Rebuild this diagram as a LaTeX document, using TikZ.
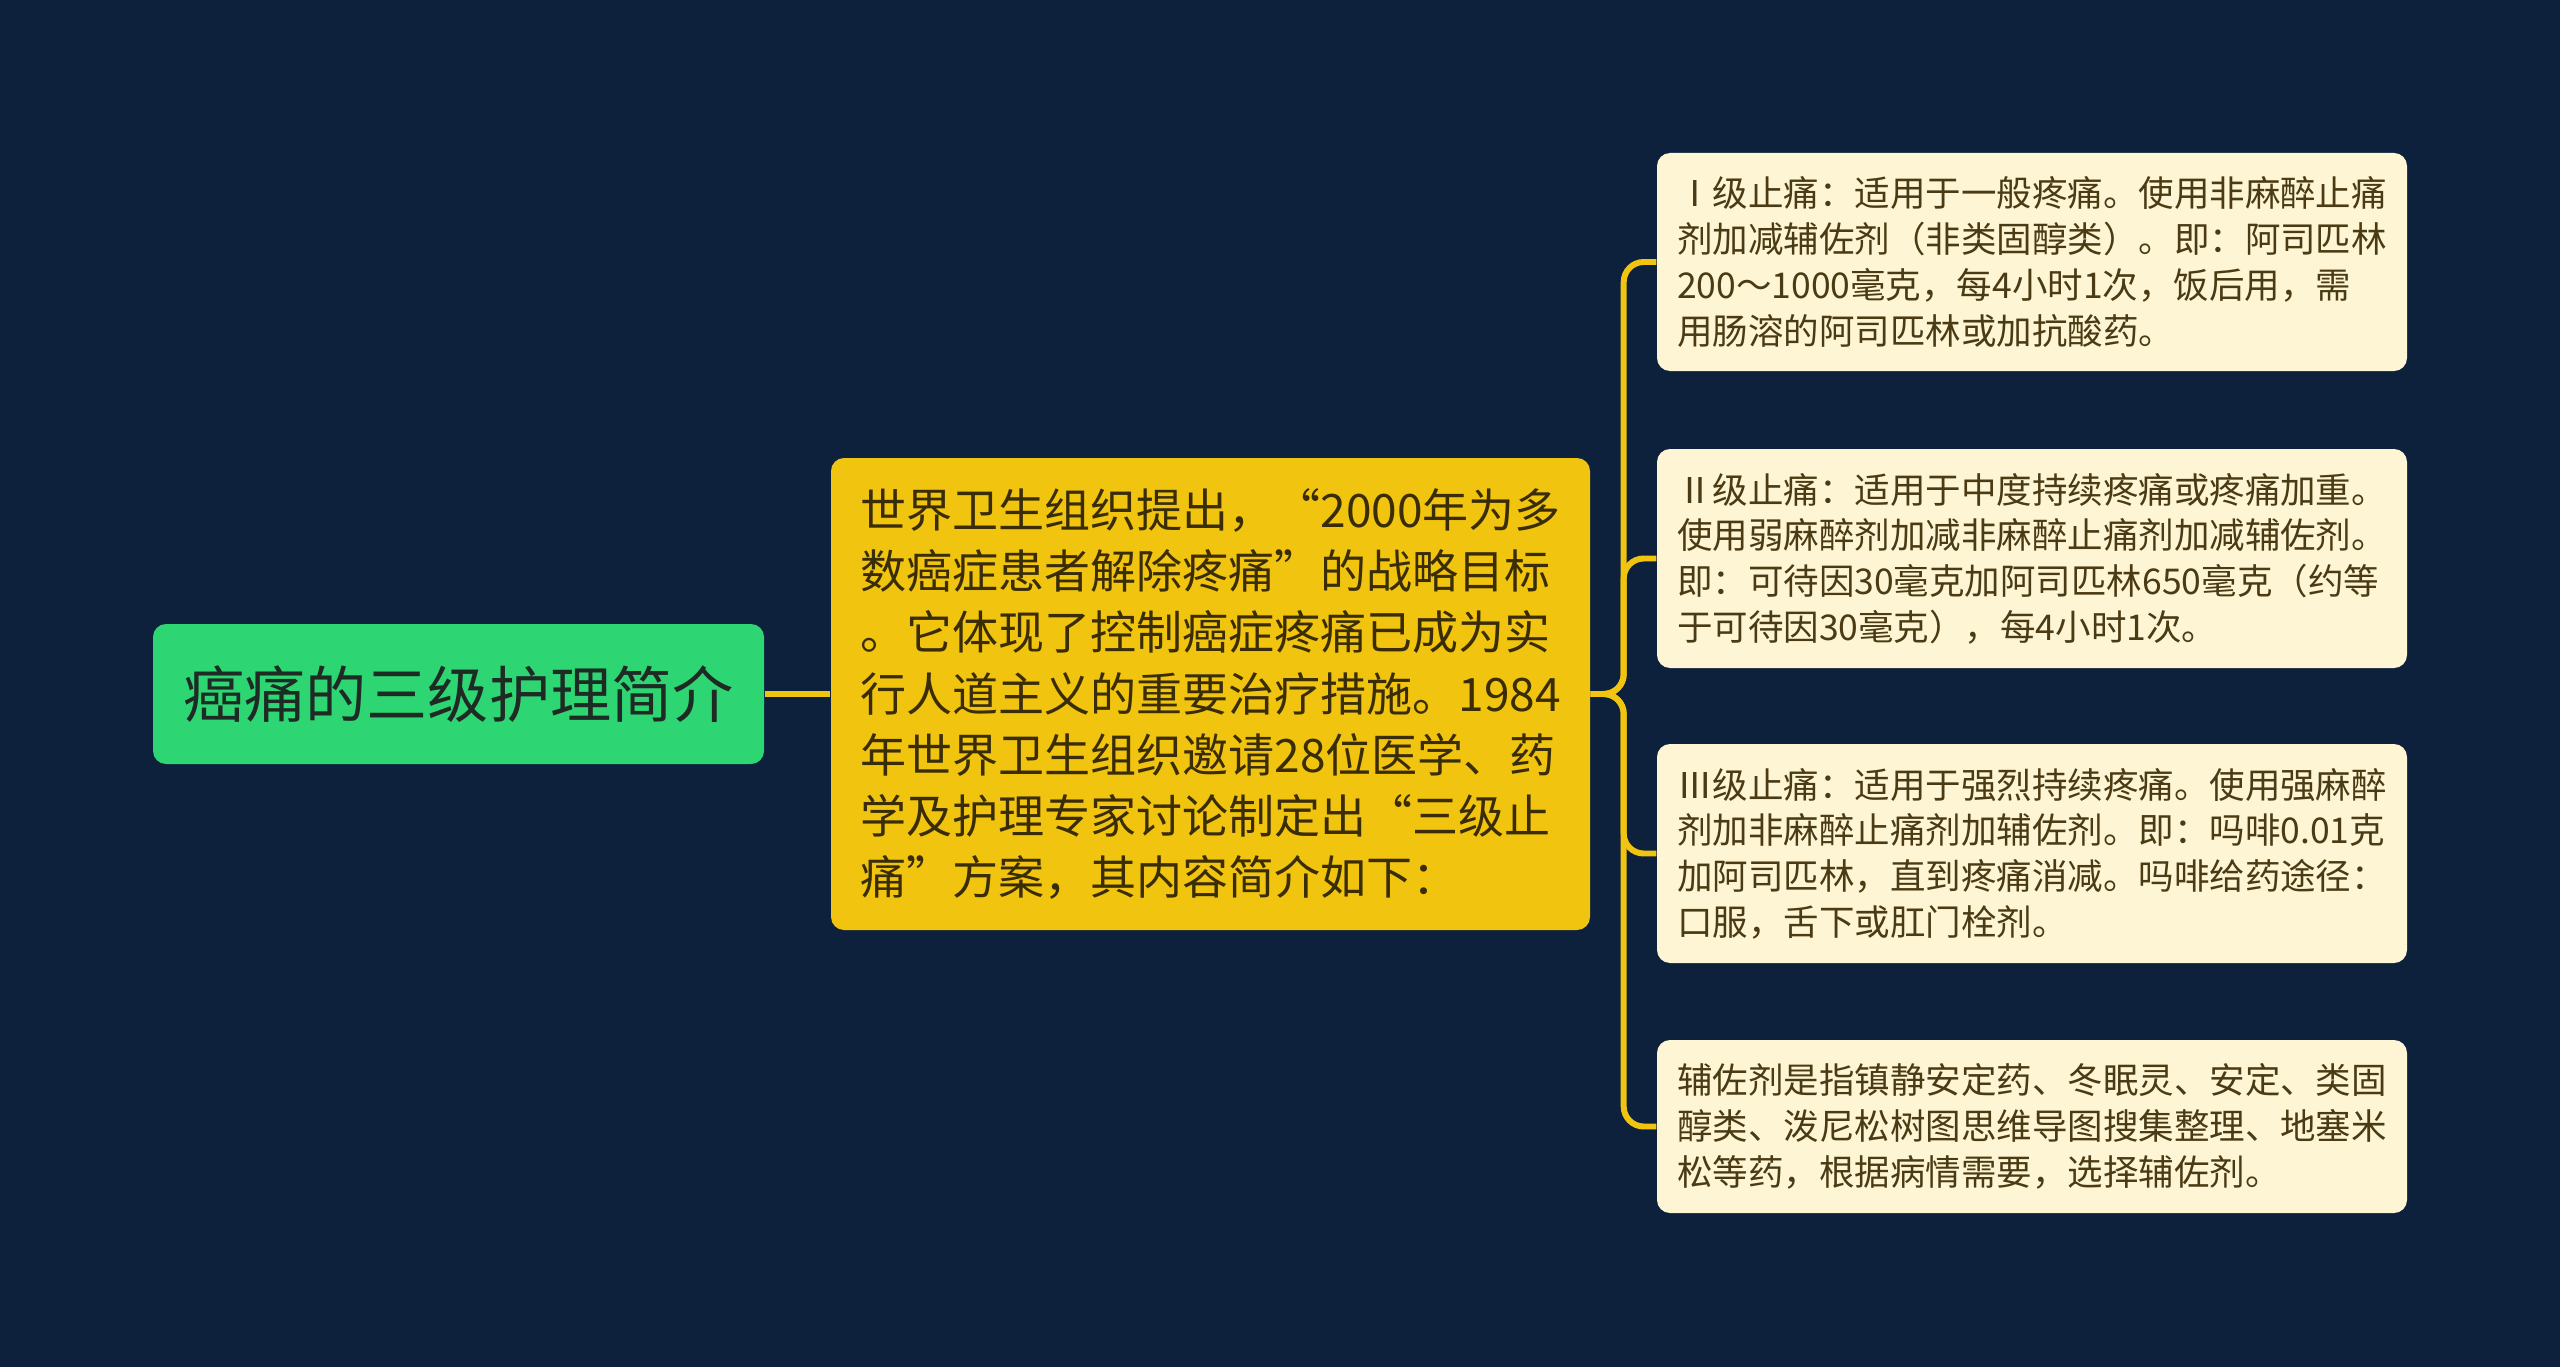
\documentclass[tikz,border=0pt]{standalone}
\usepackage{fontspec}
\setmainfont{Noto Sans CJK SC}

\definecolor{bgnavy}{HTML}{0D213D}
\definecolor{rootgreen}{HTML}{2ED573}
\definecolor{midyellow}{HTML}{F1C40F}
\definecolor{leafcream}{HTML}{FDF5D3}
\definecolor{roottext}{HTML}{1E2A24}
\definecolor{midtext}{HTML}{3A2D05}
\definecolor{leaftext}{HTML}{4A3B14}

\begin{document}
\begin{tikzpicture}[
	rootbox/.style={fill=rootgreen, rounded corners=0.13cm, minimum width=6.11cm, minimum height=1.4cm, text=roottext, font=\fontsize{17.4}{20}\selectfont},
	midbox/.style={fill=midyellow, rounded corners=0.13cm, minimum width=7.59cm, minimum height=4.72cm, text=midtext, align=left, font=\fontsize{13.1}{17.4}\selectfont},
	leafbox/.style={fill=leafcream, rounded corners=0.13cm, minimum width=7.5cm, text=leaftext, align=left, font=\fontsize{10.1}{13}\selectfont},
	link/.style={draw=midyellow, line width=1.7pt, rounded corners=0.2cm}
	]
	% background
	\useasboundingbox (0,0) rectangle (25.6,13.67);
	\fill [bgnavy] (0,0) rectangle (25.6,13.67);
	
	% main topic
	\node [rootbox] (root) at (4.585,6.73) {癌痛的三级护理简介};
	
	% summary
	\node [midbox] (mid) at (12.105,6.73) {世界卫生组织提出，“2000年为多\\数癌症患者解除疼痛”的战略目标\\。它体现了控制癌症疼痛已成为实\\行人道主义的重要治疗措施。1984\\年世界卫生组织邀请28位医学、药\\学及护理专家讨论制定出“三级止\\痛”方案，其内容简介如下：};
	
	% three steps
	\node [leafbox, minimum height=2.18cm] (step1) at (20.32,11.05) {Ⅰ级止痛：适用于一般疼痛。使用非麻醉止痛\\剂加减辅佐剂（非类固醇类）。即：阿司匹林\\200～1000毫克，每4小时1次，饭后用，需\\用肠溶的阿司匹林或加抗酸药。};
	\node [leafbox, minimum height=2.19cm] (step2) at (20.32,8.085) {Ⅱ级止痛：适用于中度持续疼痛或疼痛加重。\\使用弱麻醉剂加减非麻醉止痛剂加减辅佐剂。\\即：可待因30毫克加阿司匹林650毫克（约等\\于可待因30毫克），每4小时1次。};
	\node [leafbox, minimum height=2.19cm] (step3) at (20.32,5.135) {Ⅲ级止痛：适用于强烈持续疼痛。使用强麻醉\\剂加非麻醉止痛剂加辅佐剂。即：吗啡0.01克\\加阿司匹林，直到疼痛消减。吗啡给药途径：\\口服，舌下或肛门栓剂。};
	\node [leafbox, minimum height=1.73cm] (step4) at (20.32,2.405) {辅佐剂是指镇静安定药、冬眠灵、安定、类固\\醇类、泼尼松树图思维导图搜集整理、地塞米\\松等药，根据病情需要，选择辅佐剂。};
	
	% links
	\draw [link] (root.east) -- (mid.west);
	\foreach \i in {1,...,4}
		\draw [link] (mid.east) -- ++(0.33,0) |- (step\i.west);
\end{tikzpicture}
\end{document}
